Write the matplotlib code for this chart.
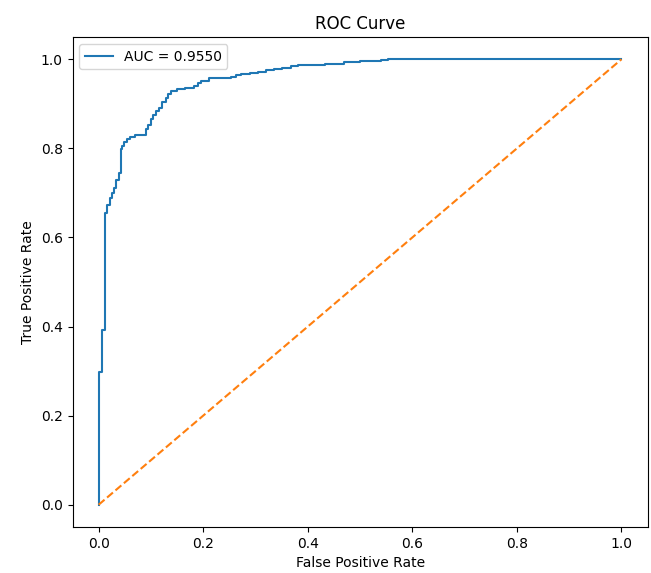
import matplotlib
matplotlib.use("Agg")
import matplotlib.pyplot as plt

# ROC curve step corners (top-right of each step)
fpr = [0.0, 0.007, 0.012, 0.013, 0.016, 0.021, 0.026, 0.030, 0.034, 0.038,
       0.042, 0.044, 0.049, 0.054, 0.060, 0.070, 0.090, 0.094, 0.100, 0.104,
       0.110, 0.116, 0.122, 0.128, 0.133, 0.138, 0.150, 0.165, 0.183, 0.190,
       0.196, 0.211, 0.253, 0.262, 0.272, 0.290, 0.304, 0.320, 0.336, 0.350,
       0.368, 0.381, 0.432, 0.470, 0.500, 0.540, 0.553, 1.0]
tpr = [0.0, 0.297, 0.393, 0.618, 0.656, 0.672, 0.689, 0.700, 0.712, 0.730,
       0.745, 0.798, 0.805, 0.815, 0.822, 0.826, 0.829, 0.843, 0.852, 0.865,
       0.876, 0.884, 0.891, 0.903, 0.914, 0.921, 0.929, 0.933, 0.936, 0.940,
       0.946, 0.951, 0.957, 0.961, 0.964, 0.966, 0.970, 0.972, 0.975, 0.978,
       0.980, 0.984, 0.987, 0.989, 0.993, 0.996, 0.999, 1.0]
auc_value = 0.9550
chance = [0, 1]

fig = plt.figure(figsize=(6.51, 5.73), dpi=100)
ax = fig.add_axes([0.1114, 0.0803, 0.8834, 0.8551])

ax.plot(fpr, tpr, drawstyle="steps-pre", label=f"AUC = {auc_value:.4f}")
ax.plot(chance, chance, linestyle="--")

ax.set_xlabel("False Positive Rate")
ax.set_ylabel("True Positive Rate")
ax.set_title("ROC Curve")
ax.legend(loc="upper left")

fig.savefig("out.png", dpi=100)
